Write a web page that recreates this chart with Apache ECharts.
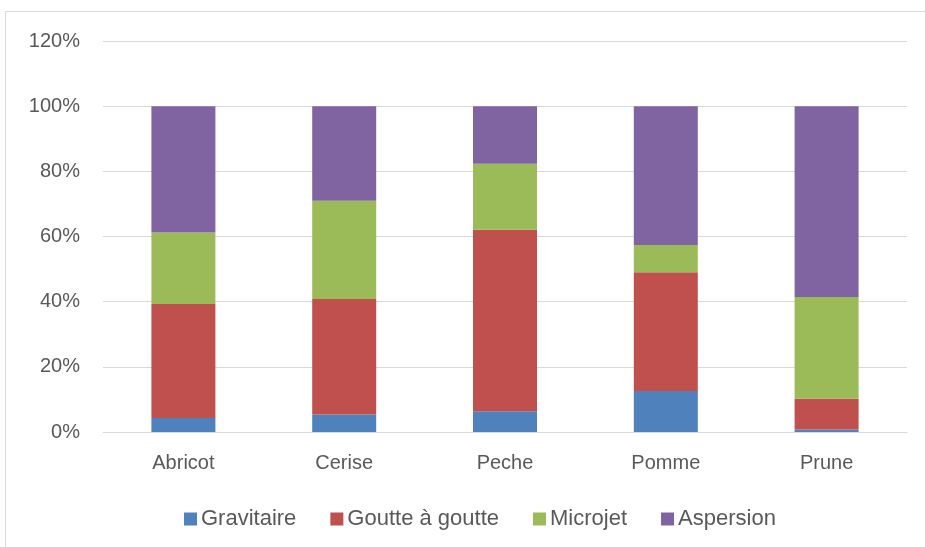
<!DOCTYPE html>
<html><head><meta charset="utf-8">
<script src="https://cdn.jsdelivr.net/npm/echarts@6/dist/echarts.min.js"></script>
<style>html,body{margin:0;padding:0;background:#fff}#c{width:925px;height:547px}</style>
</head><body><div id="c"></div>
<script>
const categories = ['Abricot','Cerise','Peche','Pomme','Prune'];
const gravitaire = [4.3, 5.4, 6.4, 12.6, 0.8];
const goutte = [35.0, 35.4, 55.7, 36.4, 9.4];
const microjet = [21.9, 30.2, 20.2, 8.4, 31.2];
const aspersion = [38.8, 29.0, 17.7, 42.6, 58.6];
const seriesNames = ['Gravitaire','Goutte à goutte','Microjet','Aspersion'];
const colors = ['#4f81bd','#c0504d','#9bbb59','#8064a2'];

const chart = echarts.init(document.getElementById('c'));
const font = 'Liberation Sans, Arial, sans-serif';
const mk = (name, data, i) => ({
  name, type: 'bar', stack: 'all', data, barWidth: 64,
  itemStyle: {color: colors[i]}
});
chart.setOption({
  animation: false,
  color: colors,
  graphic: [{type:'rect', shape:{x:5.5,y:11.5,width:940,height:560}, style:{fill:'none', stroke:'#d9d9d9', lineWidth:1}, silent:true}],
  grid: {left: 103, right: 18, top: 41, bottom: 115},
  legend: {
    top: 503, left: 179, itemWidth: 13, itemHeight: 13, itemGap: 34,
    icon: 'rect',
    textStyle: {fontFamily: font, fontSize: 22, color: '#595959', padding: [0,0,0,-1]},
    data: seriesNames
  },
  xAxis: {
    type: 'category', data: categories,
    axisLine: {lineStyle: {color: '#d9d9d9'}},
    axisTick: {show: false},
    axisLabel: {fontFamily: font, fontSize: 20, color: '#595959', margin: 21}
  },
  yAxis: {
    type: 'value', min: 0, max: 120, interval: 20,
    axisLine: {show: false}, axisTick: {show: false},
    splitLine: {lineStyle: {color: '#d9d9d9'}},
    axisLabel: {formatter: '{value}%', fontFamily: font, fontSize: 20, color: '#595959', margin: 23}
  },
  series: [mk(seriesNames[0], gravitaire, 0), mk(seriesNames[1], goutte, 1), mk(seriesNames[2], microjet, 2), mk(seriesNames[3], aspersion, 3)]
});
</script></body></html>
